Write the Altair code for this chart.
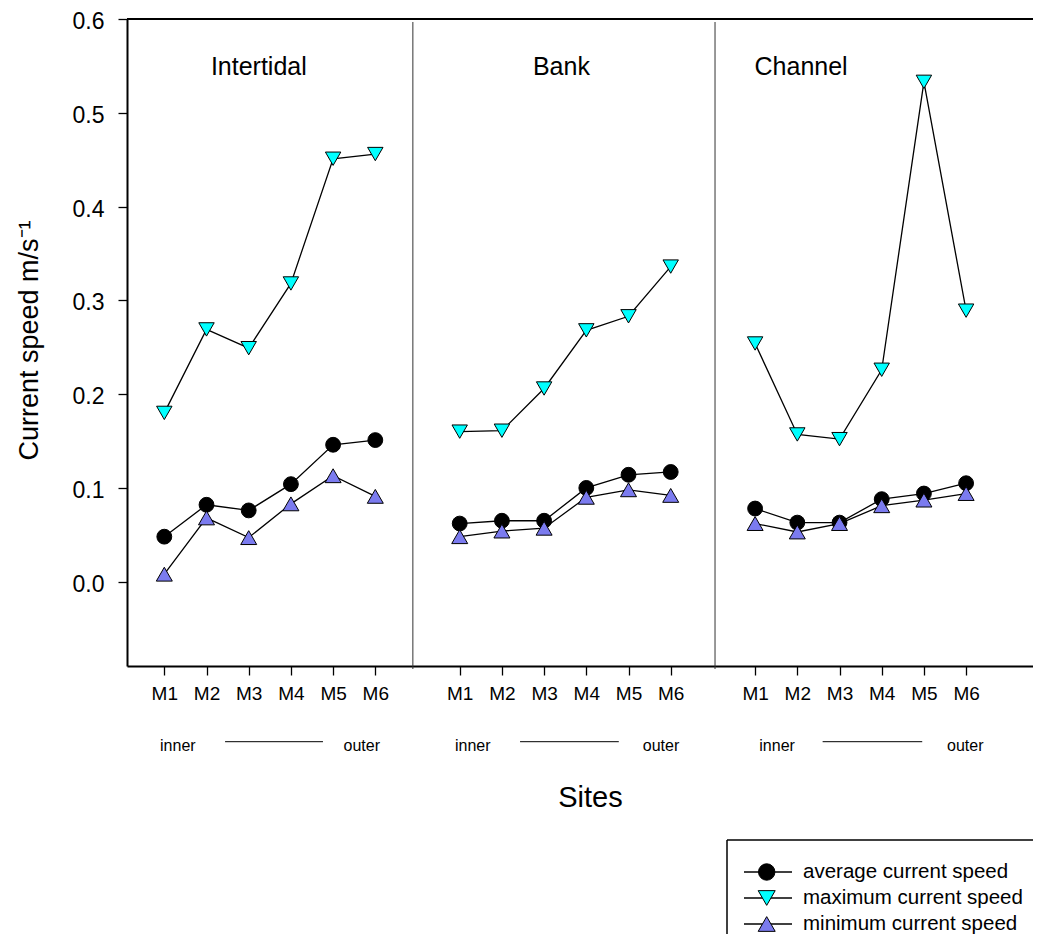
import altair as alt
import pandas as pd

# ---------------- data ----------------
groups = ["Intertidal", "Bank", "Channel"]
site_labels = ["M1", "M2", "M3", "M4", "M5", "M6"]
group_start = [0, 7, 14]          # x position of M1 in each group
series_names = ["average current speed", "maximum current speed", "minimum current speed"]

avg_intertidal = [0.048, 0.082, 0.076, 0.104, 0.146, 0.151]
avg_bank = [0.062, 0.065, 0.065, 0.100, 0.114, 0.117]
avg_channel = [0.078, 0.063, 0.063, 0.088, 0.094, 0.105]

max_intertidal = [0.180, 0.269, 0.249, 0.318, 0.451, 0.456]
max_bank = [0.160, 0.161, 0.206, 0.268, 0.283, 0.336]
max_channel = [0.254, 0.157, 0.152, 0.226, 0.533, 0.289]

min_intertidal = [0.008, 0.068, 0.047, 0.083, 0.113, 0.091]
min_bank = [0.048, 0.054, 0.057, 0.090, 0.098, 0.092]
min_channel = [0.062, 0.053, 0.062, 0.081, 0.087, 0.094]

y_ticks = [0.0, 0.1, 0.2, 0.3, 0.4, 0.5, 0.6]

# annotation layout (x in axis units)
title_pos = [2.24, 9.41, 15.09]
divider_pos = [5.89, 13.05]
inner_pos = [0.32, 7.31, 14.52]
outer_pos = [4.68, 11.77, 18.98]
arrow_start = [1.44, 8.43, 15.60]
arrow_end = [3.76, 10.77, 17.96]

# ---------------- tables ----------------
rows = []
for g, start, avg, mx, mn in zip(
    groups, group_start,
    [avg_intertidal, avg_bank, avg_channel],
    [max_intertidal, max_bank, max_channel],
    [min_intertidal, min_bank, min_channel],
):
    for s_name, vals in zip(series_names, [avg, mx, mn]):
        for i, (lab, v) in enumerate(zip(site_labels, vals)):
            rows.append({"group": g, "site": lab, "pos": start + i, "series": s_name, "value": v})
df = pd.DataFrame(rows)

tick_values = [start + i for start in group_start for i in range(len(site_labels))]

FONT = "Liberation Sans"
PAD_L, PAD_T, PAD_B = 119, 11, 268
W, H = 906, 647

fill_scale = alt.Scale(domain=series_names, range=["#000000", "#00FFFF", "#7B7BEF"])
shape_scale = alt.Scale(domain=series_names, range=["circle", "triangle-down", "triangle-up"])
size_scale = alt.Scale(domain=series_names, range=[220, 256, 256])

x_enc = alt.X(
    "pos:Q",
    scale=alt.Scale(domain=[-0.884, 20.585], nice=False, zero=False),
    axis=alt.Axis(
        values=tick_values,
        labelExpr="'M' + (datum.value % 7 + 1)",
        grid=False, domainColor="black", domainWidth=2,
        tickColor="black", tickWidth=1.3, tickSize=9,
        labelFont=FONT, labelFontSize=19, labelColor="black", labelPadding=9,
        labelFlush=False, labelOverlap=False,
        titleFont=FONT, titleFontSize=29, titleFontWeight="normal", titleColor="black",
        titleX=463, titleY=140, titleBaseline="alphabetic", titleAlign="center",
    ),
    title="Sites",
)
y_enc = alt.Y(
    "value:Q",
    scale=alt.Scale(domain=[-0.0899, 0.6], nice=False, zero=False),
    axis=alt.Axis(
        values=y_ticks, format=".1f",
        grid=False, domainColor="black", domainWidth=2,
        tickColor="black", tickWidth=1.3, tickSize=9,
        labelFont=FONT, labelFontSize=23, labelColor="black", labelPadding=14,
        labelOffset=2.5,
        labelFlush=False, labelOverlap=False,
        titleFont=FONT, titleFontSize=27, titleFontWeight="normal", titleColor="black",
        titleX=-90, titleY=321, titleBaseline="alphabetic", titleAlign="center", titleAngle=270,
    ),
    title="Current speed m/s⁻¹",
)

lines = alt.Chart(df).mark_line(color="black", strokeWidth=1.3).encode(
    x=x_enc, y=y_enc, detail=["group:N", "series:N"], order="pos:Q"
)

points = alt.Chart(df).mark_point(filled=True, stroke="black", strokeWidth=1, opacity=1).encode(
    x="pos:Q",
    y="value:Q",
    fill=alt.Fill("series:N", scale=fill_scale, legend=None),
    shape=alt.Shape("series:N", scale=shape_scale, legend=None),
    size=alt.Size("series:N", scale=size_scale, legend=None),
)

# frame: top line and group dividers
top_line = alt.Chart(pd.DataFrame({"v": [0.6]})).mark_rule(color="black", strokeWidth=2).encode(
    y=alt.Y("v:Q"), x=alt.value(0), x2=alt.value(W)
)
div_df = pd.DataFrame({"pos": divider_pos})
dividers = alt.Chart(div_df).mark_rule(color="#333333", strokeWidth=1).encode(
    x="pos:Q", y=alt.value(3), y2=alt.value(H + 3)
)

# panel titles
title_df = pd.DataFrame({"pos": title_pos, "label": groups})
titles = alt.Chart(title_df).mark_text(
    font=FONT, fontSize=25, color="black", align="center", baseline="alphabetic"
).encode(x="pos:Q", y=alt.value(55.5), text="label:N")

# inner / outer annotations
io_df = pd.DataFrame({"pos": inner_pos + outer_pos,
                      "label": ["inner"] * 3 + ["outer"] * 3})
io_text = alt.Chart(io_df).mark_text(
    font=FONT, fontSize=16, color="black", align="center", baseline="alphabetic"
).encode(x="pos:Q", y=alt.value(732), text="label:N")
arrow_df = pd.DataFrame({"pos": arrow_start, "pos2": arrow_end})
io_lines = alt.Chart(arrow_df).mark_rule(color="black", strokeWidth=1).encode(
    x="pos:Q", x2="pos2:Q", y=alt.value(722.7)
)

# legend (drawn manually; box open at right/bottom like the cropped original)
leg_df = pd.DataFrame({"series": series_names})
one = leg_df.head(1)
LEG_L, LEG_T = 600, 821
leg_top = alt.Chart(one).mark_rule(color="black", strokeWidth=1.5).encode(
    x=alt.value(LEG_L), x2=alt.value(W), y=alt.value(LEG_T))
leg_left = alt.Chart(one).mark_rule(color="black", strokeWidth=1.5).encode(
    x=alt.value(LEG_L), y=alt.value(LEG_T), y2=alt.value(H + PAD_B))

leg_layers = [leg_top, leg_left]
leg_rows = [853, 879, 905]
leg_fill = ["#000000", "#00FFFF", "#7B7BEF"]
leg_shape = ["circle", "triangle-down", "triangle-up"]
leg_size = [270, 290, 290]
for s_name, ry, f, shp, sz in zip(series_names, leg_rows, leg_fill, leg_shape, leg_size):
    base = alt.Chart(leg_df).transform_filter(alt.datum.series == s_name)
    leg_layers.append(base.mark_rule(color="black", strokeWidth=1.3).encode(
        x=alt.value(617), x2=alt.value(665), y=alt.value(ry)))
    leg_layers.append(base.mark_point(filled=True, fill=f, stroke="black", strokeWidth=1,
                                      shape=shp, size=sz, opacity=1).encode(
        x=alt.value(639.7), y=alt.value(ry)))
    leg_layers.append(base.mark_text(font=FONT, fontSize=20.5, color="black", align="left",
                                     baseline="middle").encode(
        x=alt.value(676), y=alt.value(ry), text="series:N"))

chart = alt.layer(
    lines, top_line, dividers, points, titles, io_text, io_lines, *leg_layers
).properties(
    width=W, height=H,
    padding={"left": PAD_L, "top": PAD_T, "right": 0, "bottom": PAD_B},
    autosize=alt.AutoSizeParams(type="none"),
    background="white",
).configure_view(stroke=None)

chart.save("out.html", embed_options={"renderer": "svg", "actions": False})
